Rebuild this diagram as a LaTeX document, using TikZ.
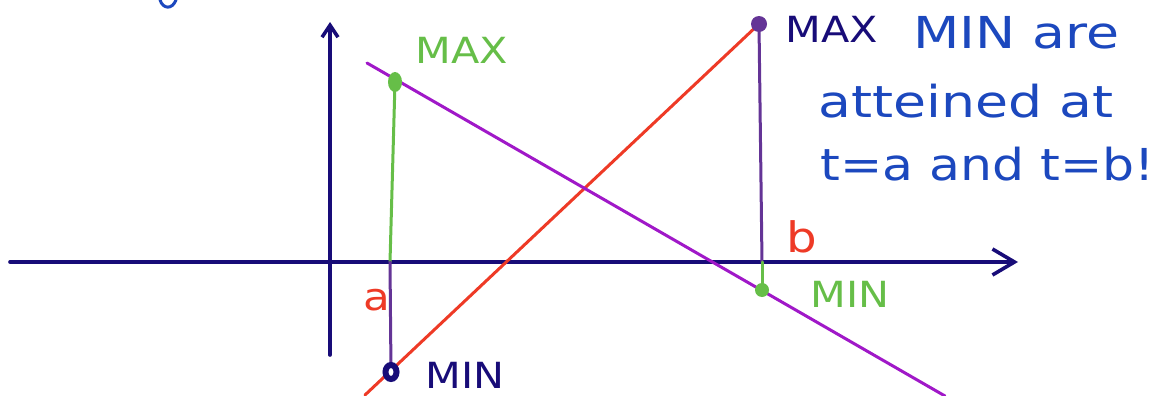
\documentclass[tikz,border=0pt]{standalone}
\usepackage{fontspec}
\setmainfont{DejaVu Sans}
\usetikzlibrary{arrows.meta}
\definecolor{axisnavy}{RGB}{24,12,120}
\definecolor{maxgreen}{RGB}{102,190,72}
\definecolor{linered}{RGB}{238,58,38}
\definecolor{linemagenta}{RGB}{160,24,200}
\definecolor{barpurple}{RGB}{100,52,150}
\definecolor{noteblue}{RGB}{28,72,190}

\begin{document}
\begin{tikzpicture}[x=0.5pt,y=-0.5pt,
    axis/.style={draw=axisnavy,line width=1.8pt,line cap=round},
    graph/.style={line width=1.5pt,line cap=round},
    lbl/.style={font=\fontsize{18}{22}\selectfont,inner sep=0pt,xscale=1.15},
    note/.style={text=noteblue,font=\fontsize{22}{26}\selectfont,
                 inner sep=0pt,anchor=base west,xscale=1.22}]
  \useasboundingbox (0,0) rectangle (1168,396);

  % axes
  \coordinate (xl) at (10,262);
  \coordinate (xr) at (1018,262);
  \coordinate (yb) at (330,355);
  \coordinate (yt) at (330,22);
  \draw[axis,-{Straight Barb[length=11pt,width=13pt]}] (xl) -- (xr);
  \draw[axis,-{Straight Barb[length=6pt,width=8pt]}] (yb) -- (yt);

  % points at t=a and t=b
  \coordinate (a0) at (390,262);
  \coordinate (b0) at (762,262);
  \coordinate (maxa) at (395,82);
  \coordinate (mina) at (391,372);
  \coordinate (maxb) at (759,24);
  \coordinate (minb) at (762,290);

  % the two lines
  \coordinate (redlo) at (365,395);
  \coordinate (maglo) at (367,63);
  \coordinate (maghi) at (945,396);
  \draw[graph,linered] (redlo) -- (maxb);
  \draw[graph,linemagenta] (maglo) -- (maghi);

  % verticals
  \draw[graph,maxgreen] (maxa) -- (a0);
  \draw[graph,barpurple] (a0) -- (mina);
  \draw[graph,barpurple] (maxb) -- (b0);
  \draw[graph,maxgreen] (b0) -- (minb);

  % dots
  \fill[maxgreen] (maxa) ellipse (7 and 10);
  \fill[barpurple] (maxb) circle (8);
  \fill[maxgreen] (minb) circle (7);
  \draw[axisnavy,line width=3pt,fill=white] (mina) ellipse (5.5 and 7);

  % labels
  \node[lbl,text=maxgreen] (maxalbl) at (462,50) {MAX};
  \node[lbl,text=axisnavy] (maxblbl) at (832,29) {MAX};
  \node[lbl,text=maxgreen] (minblbl) at (850,294) {MIN};
  \node[lbl,text=axisnavy] (minalbl) at (465,375) {MIN};
  \node[lbl,text=linered,font=\fontsize{19}{24}\selectfont] (albl) at (377,300) {a};
  \node[lbl,text=linered,font=\fontsize{21}{24}\selectfont] (blbl) at (802,237) {b};

  % note
  \node[note] (note1) at (913,48) {MIN are};
  \node[note] (note2) at (818,117) {atteined at};
  \node[note,xscale=0.94] (note3) at (820,180) {t=a and t=b!};

  % cut-off stroke at the top
  \draw[noteblue,line width=1.5pt,line cap=round] (160,0) .. controls (163,9) and (172,10) .. (176,0);
\end{tikzpicture}
\end{document}
